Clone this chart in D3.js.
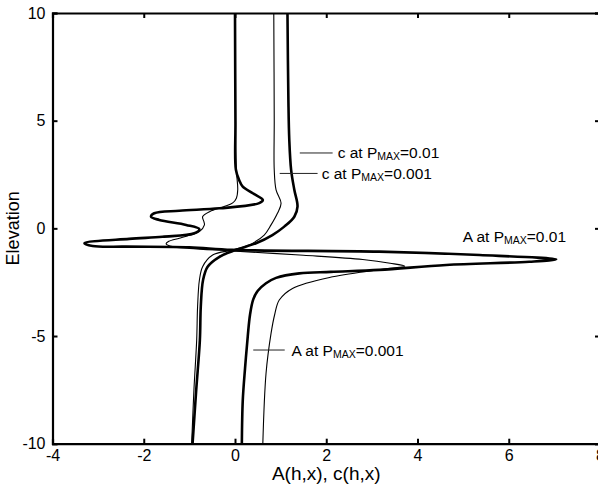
<!DOCTYPE html>
<html>
<head>
<meta charset="utf-8">
<script src="https://cdn.jsdelivr.net/npm/d3@7"></script>
<style>
  body { margin: 0; background: #fff; }
  text { font-family: "Liberation Sans", Arial, sans-serif; fill: #000; }
</style>
</head>
<body>
<div id="chart"></div>
<script>
// A(h,x) at PMAX = 0.01 (thick) -- path order, top to bottom
var aHighX    = [0.00, 0.01, 0.02, 0.09, 0.17, 0.39, 0.61, 0.53, -0.34, -1.22, -1.77, -1.84, -1.66, -1.07, -0.78, -0.89, -1.59, -2.32, -3.30, -3.12, -2.39, -1.00, -0.06, 3.16, 5.36, 7.04, 6.45, 4.63, 3.16, 2.10, 1.41, 0.90, 0.68, 0.50, 0.40, 0.33, 0.28, 0.22, 0.17, 0.15];
var aHighElev = [10, 5, 2.72, 2.25, 1.94, 1.63, 1.32, 1.17, 0.93, 0.82, 0.70, 0.54, 0.39, 0.16, -0.04, -0.23, -0.39, -0.49, -0.69, -0.82, -0.85, -0.88, -1.00, -1.08, -1.24, -1.44, -1.55, -1.70, -1.93, -2.02, -2.09, -2.30, -2.55, -2.90, -3.30, -4.00, -5.00, -6.50, -8.00, -10];

// A(h,x) at PMAX = 0.001 (thin)
var aLowX    = [0.00, 0.01, 0.03, 0.06, 0.03, -0.05, -0.25, -0.55, -0.71, -0.68, -0.67, -0.78, -1.00, -1.22, -1.45, -1.51, -1.37, -1.00, -0.06, 1.50, 2.80, 3.40, 3.72, 3.30, 2.14, 1.26, 0.97, 0.87, 0.79, 0.68, 0.61];
var aLowElev = [10, 5, 2.70, 1.79, 1.40, 1.18, 1.00, 0.78, 0.54, 0.30, 0.16, -0.15, -0.32, -0.46, -0.60, -0.72, -0.85, -0.93, -1.05, -1.25, -1.45, -1.62, -1.76, -1.88, -2.25, -2.79, -3.33, -4.00, -4.88, -6.74, -10];

// c(h,x) at PMAX = 0.01 (thick)
var cHighX    = [1.15, 1.17, 1.19, 1.23, 1.30, 1.37, 1.30, 1.08, 0.82, 0.46, 0.02, -0.34, -0.60, -0.70, -0.75, -0.77, -0.85, -0.93];
var cHighElev = [10, 6, 4.1, 2.72, 1.79, 1.01, 0.54, 0.08, -0.31, -0.69, -1.00, -1.32, -1.78, -2.40, -3.64, -5.19, -7.50, -10];

// c(h,x) at PMAX = 0.001 (thin)
var cLowX    = [0.85, 0.86, 0.86, 0.90, 1.01, 0.93, 0.79, 0.64, 0.31, -0.05, -0.49, -0.71, -0.78, -0.82, -0.84, -0.90, -0.95];
var cLowElev = [10, 5, 2.72, 1.79, 1.17, 0.70, 0.16, -0.31, -0.77, -1.00, -1.24, -1.78, -2.40, -3.64, -5.19, -7.50, -10];

var xTicks = [-4, -2, 0, 2, 4, 6, 8];
var yTicks = [-10, -5, 0, 5, 10];

// annotations
var labelName  = ["c", "c", "A", "A"];
var labelP     = ["0.01", "0.001", "0.01", "0.001"];
var labelX     = [2.25, 1.90, 4.99, 1.24];
var labelElev  = [3.50, 2.55, -0.36, -5.65];
var leaderFrom = [1.42, 0.98, null, 0.40];
var leaderTo   = [2.14, 1.81, null, 1.09];

var margin = {top: 13, left: 52.5},
    width = 547.5,
    height = 430.7;

var x = d3.scaleLinear().domain([-4, 8]).range([0, width]);
var y = d3.scaleLinear().domain([-10, 10]).range([height, 0]);

var svg = d3.select("#chart").append("svg")
    .attr("width", 598)
    .attr("height", 492)
  .append("g")
    .attr("transform", "translate(" + margin.left + "," + margin.top + ")");

function pts(xs, ys) { return xs.map(function(d, i) { return [d, ys[i]]; }); }

var line = d3.line()
    .x(function(d) { return x(d[0]); })
    .y(function(d) { return y(d[1]); })
    .curve(d3.curveCatmullRom.alpha(0.5));

var series = [
  {data: pts(aLowX, aLowElev), w: 1.1},
  {data: pts(cLowX, cLowElev), w: 1.1},
  {data: pts(aHighX, aHighElev), w: 2.6},
  {data: pts(cHighX, cHighElev), w: 2.6}
];

svg.selectAll("path.curve")
    .data(series)
  .enter().append("path")
    .attr("class", "curve")
    .attr("d", function(d) { return line(d.data); })
    .attr("fill", "none")
    .attr("stroke", "#000")
    .attr("stroke-width", function(d) { return d.w; })
    .attr("stroke-linejoin", "round");

// plain hyphen for negatives, like the original
var fmt = function(d) { return String(d); };

// axes, ticks inside
var axB = svg.append("g").attr("transform", "translate(0," + height + ")")
    .call(d3.axisBottom(x).tickValues(xTicks).tickSize(-5).tickPadding(6).tickFormat(fmt));
var axT = svg.append("g")
    .call(d3.axisTop(x).tickValues(xTicks).tickSize(-5).tickFormat(""));
var axL = svg.append("g")
    .call(d3.axisLeft(y).tickValues(yTicks).tickSize(-5).tickPadding(6).tickFormat(fmt));
var axR = svg.append("g").attr("transform", "translate(" + width + ",0)")
    .call(d3.axisRight(y).tickValues(yTicks).tickSize(-5).tickFormat(""));

[axB, axT, axL, axR].forEach(function(a) {
  a.select(".domain").attr("stroke", "#000").attr("stroke-width", 2.2);
  a.selectAll(".tick line").attr("stroke", "#000").attr("stroke-width", 2);
  a.selectAll(".tick text").attr("font-size", 16).attr("font-family", "Liberation Sans, Arial, sans-serif").attr("fill", "#000");
});
axB.selectAll(".tick text").attr("dy", "0.71em");
axL.selectAll(".tick text").attr("dx", "-1");

// axis titles
svg.append("text")
    .attr("x", width / 2)
    .attr("y", height + 36)
    .attr("text-anchor", "middle")
    .attr("font-size", 19)
    .text("A(h,x), c(h,x)");

svg.append("text")
    .attr("transform", "translate(" + (-34) + "," + (height / 2) + ") rotate(-90)")
    .attr("text-anchor", "middle")
    .attr("font-size", 18)
    .text("Elevation");

// annotations
labelName.forEach(function(n, i) {
  var ly = y(labelElev[i]);
  if (leaderFrom[i] !== null) {
    svg.append("line")
        .attr("x1", x(leaderFrom[i])).attr("x2", x(leaderTo[i]))
        .attr("y1", ly).attr("y2", ly)
        .attr("stroke", "#222").attr("stroke-width", 1);
  }
  var t = svg.append("text")
      .attr("x", x(labelX[i]))
      .attr("y", ly + 5.5)
      .attr("font-size", 15.5);
  t.append("tspan").text(n + " at P");
  t.append("tspan").attr("font-size", 10.5).attr("dy", 2).text("MAX");
  t.append("tspan").attr("dy", -2).text("=" + labelP[i]);
});
</script>
</body>
</html>
